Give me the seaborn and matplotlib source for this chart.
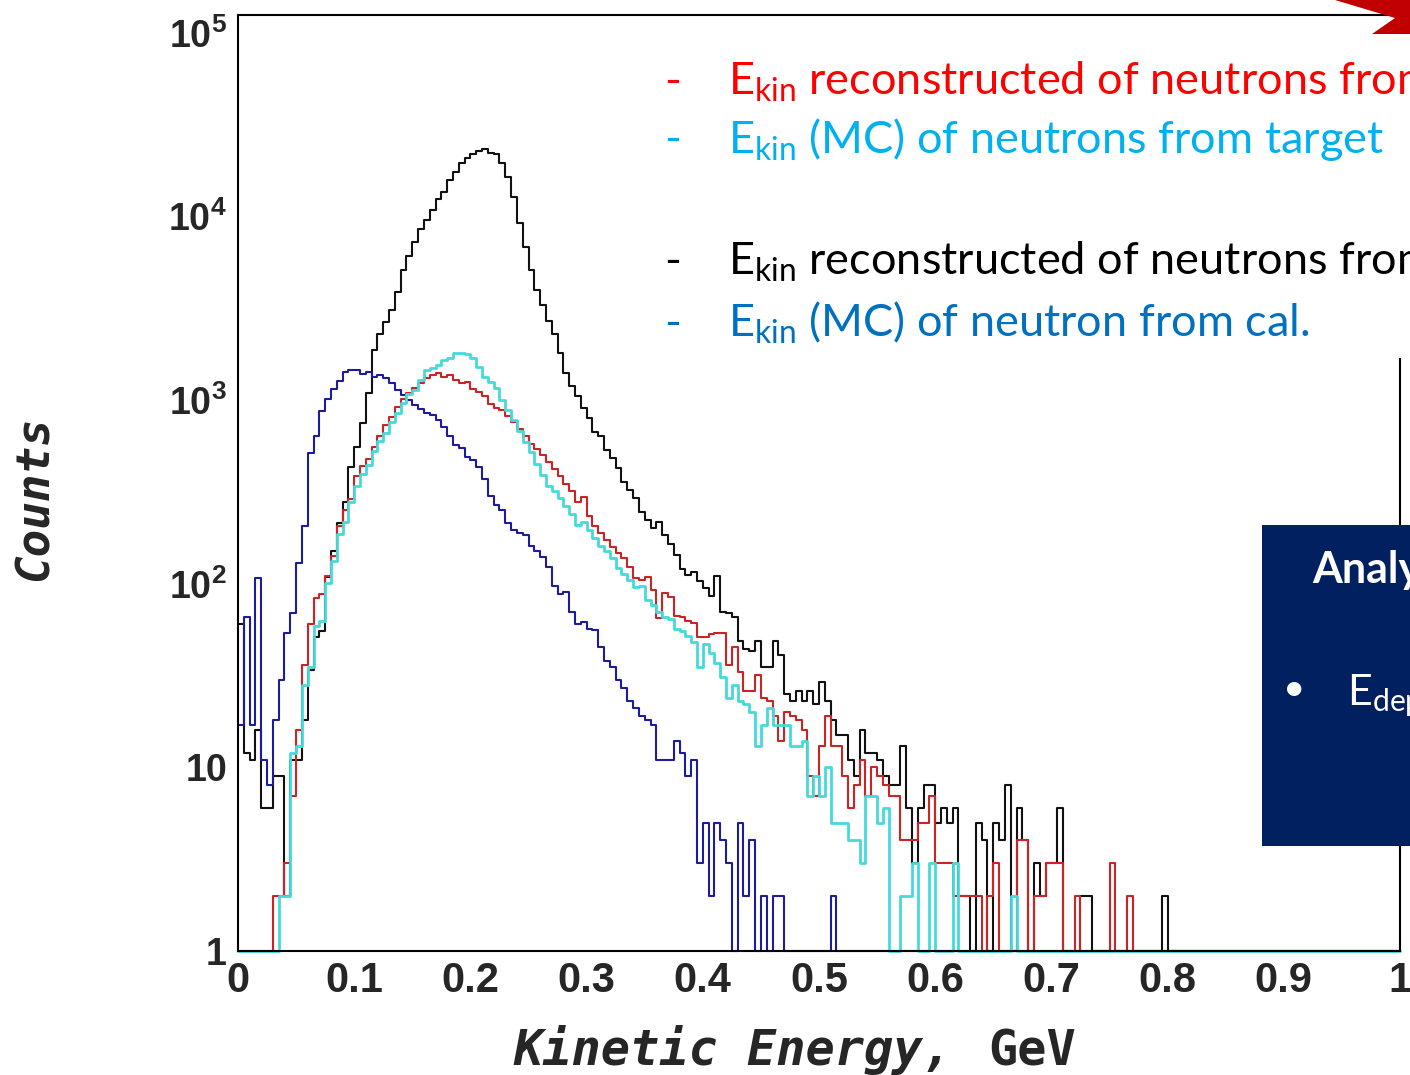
import numpy as np
import pandas as pd
import matplotlib
matplotlib.use("Agg")
import matplotlib.pyplot as plt
from matplotlib import font_manager
from matplotlib.patches import Rectangle, Polygon
from matplotlib.ticker import MultipleLocator, LogLocator, NullFormatter
import seaborn as sns

# 200 bins of 5 MeV between 0 and 1 GeV
edges = np.linspace(0.0, 1.0, 201)
centers = 0.5 * (edges[:-1] + edges[1:])

# counts per bin (20 bins per row)
counts_black = [
    60, 12, 11, 16, 6, 6, 9, 9, 2, 11, 11, 18, 34, 51, 55, 109, 150, 214, 277, 434,
    556, 750, 1090, 1880, 2300, 2650, 3100, 3900, 5100, 6100, 7300, 8500, 9600, 10900, 12500, 13600, 15700, 17400, 19500, 20800,
    21900, 22800, 23400, 22200, 21800, 19500, 16400, 12800, 9200, 6800, 5100, 4000, 3300, 2700, 2300, 1800, 1400, 1200, 1050, 907,
    800, 670, 640, 535, 485, 427, 357, 325, 293, 245, 222, 200, 216, 185, 164, 143, 120, 112, 116, 104,
    95, 86, 110, 70, 69, 66, 49, 44, 43, 49, 35, 35, 49, 41, 25, 23, 26, 23, 26, 22,
    29, 23, 18, 15, 15, 11, 9, 16, 12, 12, 11, 9, 8, 8, 13, 6, 3, 6, 8, 8,
    5, 6, 5, 6, 2, 2, 1, 5, 4, 1, 5, 4, 8, 1, 6, 4, 1, 3, 2, 3,
    3, 6, 1, 0, 0, 2, 2, 1, 0, 0, 0, 0, 0, 0, 0, 0, 0, 0, 0, 2,
    0, 0, 0, 0, 0, 0, 0, 0, 0, 0, 0, 0, 0, 0, 0, 0, 0, 0, 0, 0,
    0, 0, 0, 0, 0, 0, 0, 0, 0, 0, 0, 0, 0, 0, 0, 0, 0, 0, 0, 0,
]
counts_red = [
    0, 0, 0, 0, 0, 0, 2, 2, 3, 7, 16, 36, 60, 84, 88, 110, 142, 207, 252, 290,
    385, 435, 480, 555, 640, 730, 810, 920, 1010, 1090, 1170, 1235, 1320, 1370, 1400, 1340, 1370, 1290, 1235, 1250,
    1150, 1100, 1050, 950, 900, 880, 820, 760, 700, 640, 580, 540, 500, 460, 420, 385, 350, 318, 280, 295,
    235, 206, 190, 172, 158, 147, 138, 123, 107, 105, 109, 92, 65, 89, 85, 67, 66, 63, 61, 51,
    51, 53, 54, 54, 36, 45, 33, 26, 26, 32, 24, 23, 19, 14, 20, 19, 18, 16, 9, 7,
    13, 19, 13, 13, 9, 6, 8, 11, 7, 10, 9, 8, 7, 7, 4, 4, 4, 5, 5, 7,
    3, 3, 3, 2, 2, 2, 2, 2, 1, 2, 3, 0, 0, 0, 4, 4, 0, 2, 2, 3,
    3, 3, 0, 0, 2, 0, 0, 0, 0, 0, 3, 0, 0, 2, 0, 0, 0, 0, 0, 0,
    0, 0, 0, 0, 0, 0, 0, 0, 0, 0, 0, 0, 0, 0, 0, 0, 0, 0, 0, 0,
    0, 0, 0, 0, 0, 0, 0, 0, 0, 0, 0, 0, 0, 0, 0, 0, 0, 0, 0, 0,
]
counts_blue = [
    17, 66, 17, 108, 11, 8, 18, 30, 54, 69, 130, 206, 515, 640, 870, 1010, 1150, 1270, 1420, 1460,
    1460, 1390, 1420, 1340, 1370, 1320, 1235, 1135, 1060, 1000, 940, 890, 850, 830, 780, 710, 640, 570, 550, 490,
    470, 433, 370, 300, 267, 252, 214, 195, 190, 185, 160, 150, 140, 124, 97, 88, 90, 70, 60, 62,
    57, 56, 45, 38, 35, 30, 27, 23, 21, 19, 18, 17, 11, 11, 11, 14, 12, 9, 11, 3,
    5, 2, 5, 4, 3, 0, 5, 2, 4, 0, 2, 0, 2, 2, 0, 0, 0, 0, 0, 0,
    0, 0, 2, 0, 0, 0, 0, 0, 0, 0, 0, 0, 0, 0, 0, 0, 0, 0, 0, 0,
    0, 0, 0, 0, 0, 0, 0, 0, 0, 0, 0, 0, 0, 0, 0, 0, 0, 0, 0, 0,
    0, 0, 0, 0, 0, 0, 0, 0, 0, 0, 0, 0, 0, 0, 0, 0, 0, 0, 0, 0,
    0, 0, 0, 0, 0, 0, 0, 0, 0, 0, 0, 0, 0, 0, 0, 0, 0, 0, 0, 0,
    0, 0, 0, 0, 0, 0, 0, 0, 0, 0, 0, 0, 0, 0, 0, 0, 0, 0, 0, 0,
]
counts_cyan = [
    0, 0, 0, 0, 0, 0, 0, 2, 2, 12, 13, 28, 35, 59, 63, 101, 133, 187, 216, 278,
    340, 395, 445, 525, 595, 660, 755, 850, 960, 1080, 1140, 1280, 1450, 1500, 1560, 1650, 1700, 1800, 1800, 1780,
    1700, 1520, 1340, 1250, 1170, 1000, 880, 780, 680, 590, 520, 450, 390, 340, 320, 292, 265, 240, 210, 216,
    195, 177, 160, 150, 138, 122, 113, 105, 96, 97, 82, 77, 70, 66, 64, 57, 55, 52, 48, 35,
    47, 42, 37, 31, 24, 28, 23, 22, 20, 13, 17, 21, 17, 17, 17, 13, 13, 14, 7, 9,
    7, 10, 5, 5, 5, 4, 4, 3, 7, 7, 5, 6, 0, 0, 2, 2, 3, 0, 0, 3,
    0, 0, 0, 3, 0, 0, 0, 0, 0, 0, 0, 0, 0, 2, 0, 0, 0, 0, 0, 0,
    0, 0, 0, 0, 0, 0, 0, 0, 0, 0, 0, 0, 0, 0, 0, 0, 0, 0, 0, 0,
    0, 0, 0, 0, 0, 0, 0, 0, 0, 0, 0, 0, 0, 0, 0, 0, 0, 0, 0, 0,
    0, 0, 0, 0, 0, 0, 0, 0, 0, 0, 0, 0, 0, 0, 0, 0, 0, 0, 0, 0,
]

xtick_labels = ["0", "0.1", "0.2", "0.3", "0.4", "0.5", "0.6", "0.7", "0.8", "0.9", "1"]
ytick_values = [1, 10, 100, 1000, 10000, 100000]
ytick_labels = ["1", "10", r"$\mathbf{10^{2}}$", r"$\mathbf{10^{3}}$", r"$\mathbf{10^{4}}$", r"$\mathbf{10^{5}}$"]

W, H = 1410, 1075

def px(x, y):
    # pixel position in the picture -> figure fraction
    return x / W, 1 - y / H

sns.set_theme(style="white")
names = {f.name for f in font_manager.fontManager.ttflist}
narrow = "Liberation Sans Narrow" in names
tick_font = "Liberation Sans Narrow" if narrow else "Liberation Sans"
xt_size, yt_size = (36, 32) if narrow else (30, 27)

plt.rcParams["font.family"] = ["Lato", "DejaVu Sans"]
plt.rcParams["mathtext.fontset"] = "custom"
plt.rcParams["mathtext.bf"] = tick_font + ":bold"
plt.rcParams["mathtext.rm"] = "Lato"

fig = plt.figure(figsize=(W / 100, H / 100), dpi=100)
fig.patch.set_facecolor("white")
ax = fig.add_axes([238 / W, 1 - 951 / H, (1400 - 238) / W, (951 - 15) / H])
ax.set_facecolor("white")

# ROOT draws empty bins on the frame floor
series = [
    (counts_black, "#111111", 1.5),
    (counts_red, "#cc2424", 1.5),
    (counts_blue, "#1c1c9c", 1.5),
    (counts_cyan, "#45dada", 2.0),
]
for vals, col, lw in series:
    df = pd.DataFrame({"E": centers, "n": np.maximum(np.array(vals, dtype=float), 1.0)})
    sns.histplot(data=df, x="E", weights="n", binwidth=0.005, binrange=(0.0, 1.0),
                 element="step", fill=False, color=col, linewidth=lw, ax=ax, clip_on=False)

ax.set_yscale("log")
ax.set_xlim(0, 1)
ax.set_ylim(1, 1.25e5)
ax.set_xlabel("")
ax.set_ylabel("")

ax.xaxis.set_major_locator(MultipleLocator(0.1))
ax.xaxis.set_minor_locator(MultipleLocator(0.02))
ax.set_xticks(np.arange(11) / 10)
ax.set_xticklabels(xtick_labels, fontfamily=tick_font, fontweight="bold", fontsize=xt_size)
ax.set_yticks(ytick_values)
ax.set_yticklabels(ytick_labels, fontfamily=tick_font, fontweight="bold", fontsize=yt_size)
ax.yaxis.set_minor_locator(LogLocator(base=10, subs=range(2, 10)))
ax.yaxis.set_minor_formatter(NullFormatter())

ax.tick_params(axis="both", which="both", direction="in", top=False, right=False,
               color="black", width=1.5)
ax.tick_params(axis="x", which="major", length=20, pad=7)
ax.tick_params(axis="x", which="minor", length=10)
ax.tick_params(axis="y", which="major", length=26, pad=8)
ax.tick_params(axis="y", which="minor", length=13)
for s in ax.spines.values():
    s.set_color("black")
    s.set_linewidth(1.5)

# axis titles (ROOT style mono bold italic)
fig.text(*px(513, 1065), "Kinetic Energy,", fontfamily="DejaVu Sans Mono", fontweight="bold",
         fontstyle="italic", fontsize=35, ha="left", va="baseline")
fig.text(*px(988, 1065), "GeV", fontfamily="DejaVu Sans Mono", fontweight="bold",
         fontsize=35, ha="left", va="baseline")
fig.text(*px(35, 498), "Counts", fontfamily="DejaVu Sans Mono", fontweight="bold",
         fontstyle="italic", fontsize=33, rotation=90, ha="center", va="center")

# slide overlay: white text box, legend lines (cut by the slide edge as in the source)
fig.patches.append(Rectangle(px(640, 358), (W - 640) / W, (358 - 22) / H,
                             transform=fig.transFigure, facecolor="white", edgecolor="none", zorder=5))
legend_lines = [
    (95, "#ff0000", r"E$_{\mathrm{kin}}$ reconstructed of neutrons from"),
    (153, "#00b0f0", r"E$_{\mathrm{kin}}$ (MC) of neutrons from target"),
    (275, "#000000", r"E$_{\mathrm{kin}}$ reconstructed of neutrons from"),
    (337, "#0070c0", r"E$_{\mathrm{kin}}$ (MC) of neutron from cal."),
]
for yb, col, txt in legend_lines:
    fig.text(*px(664, yb), "-", color=col, fontsize=32.5, ha="left", va="baseline", zorder=6)
    fig.text(*px(728, yb), txt, color=col, fontsize=32.5, ha="left", va="baseline", zorder=6)

# navy box on the right
fig.patches.append(Rectangle(px(1262, 846), (W - 1262) / W, (846 - 525) / H,
                             transform=fig.transFigure, facecolor="#002060", edgecolor="none", zorder=5))
fig.text(*px(1312, 583), "Analy", color="white", fontsize=31, fontweight="bold",
         ha="left", va="baseline", zorder=6)
fig.text(*px(1283, 700), "\u2022", color="white", fontsize=28, ha="left", va="baseline", zorder=6)
fig.text(*px(1347, 705), r"E$_{\mathrm{dep}}$", color="white", fontsize=31,
         ha="left", va="baseline", zorder=6)

# red arrow tip in the corner
arrow = [px(1335, 0), px(1410, 0), px(1410, 34), px(1372, 34), px(1395, 18)]
fig.patches.append(Polygon(arrow, closed=True, transform=fig.transFigure,
                           facecolor="#c00000", edgecolor="none", zorder=6))

fig.savefig("out.png", dpi=100)
